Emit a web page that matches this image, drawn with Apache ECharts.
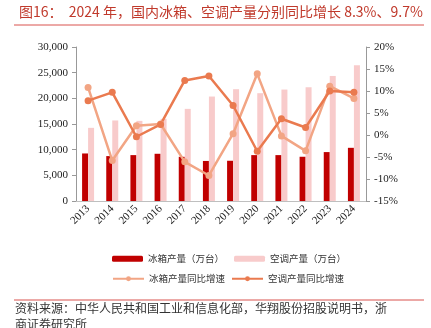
<!DOCTYPE html>
<html><head><meta charset="utf-8">
<script src="https://cdn.jsdelivr.net/npm/echarts@6/dist/echarts.min.js"></script>
<style>html,body{margin:0;padding:0;background:#fff}#c{width:431px;height:328px}</style>
</head><body><div id="c"></div>
<script>
var years = ['2013','2014','2015','2016','2017','2018','2019','2020','2021','2022','2023','2024'];
var fridgeOutput = [9260, 8750, 8940, 9200, 8610, 7800, 7840, 8940, 8940, 8620, 9530, 10360];
var acOutput = [14250, 15690, 15610, 16000, 17950, 20350, 21780, 21000, 21710, 22160, 24360, 26440];
var fridgeGrowth = [10.8, -5.8, 2.1, 2.5, -6.1, -9.2, 0.3, 13.9, -0.2, -3.6, 11.1, 8.3];
var acGrowth = [7.8, 9.7, -0.4, 2.4, 12.4, 13.4, 6.7, -3.7, 3.7, 1.7, 10.0, 9.7];
var leftTicks = {min: 0, max: 30000, interval: 5000};
var rightTicks = {min: -15, max: 20, interval: 5};

var serif = 'Liberation Serif';
var cjk = 'Noto Sans CJK SC';
var chart = echarts.init(document.getElementById('c'));
chart.setOption({
  animation: false,
  backgroundColor: '#fff',
  title: {
    text: '图16：  2024 年，国内冰箱、空调产量分别同比增长 8.3%、9.7%',
    left: 14, top: 0,
    textStyle: {color: '#c0392b', fontSize: 14, fontWeight: 'normal', fontFamily: cjk}
  },
  graphic: [
    {type: 'line', shape: {x1: 14, y1: 25, x2: 424, y2: 25}, style: {stroke: '#d9534f', lineWidth: 1}},
    {type: 'line', shape: {x1: 14, y1: 300, x2: 424, y2: 300}, style: {stroke: '#d9534f', lineWidth: 1}},
    {type: 'text', left: 15, top: 302, style: {text: '资料来源：中华人民共和国工业和信息化部，华翔股份招股说明书，浙', fontSize: 12, fontFamily: cjk, fill: '#333'}},
    {type: 'text', left: 15, top: 318, style: {text: '商证券研究所', fontSize: 12, fontFamily: cjk, fill: '#333'}}
  ],
  grid: {left: 76, right: 65, top: 47, bottom: 127},
  legend: [
    {data: ['冰箱产量（万台）', '空调产量（万台）'], left: 107, top: 249, itemWidth: 31, itemHeight: 6, itemGap: 10,
     textStyle: {fontSize: 9.5, fontFamily: cjk, color: '#333'}},
    {data: ['冰箱产量同比增速', '空调产量同比增速'], left: 107, top: 269, itemWidth: 31, itemHeight: 6, itemGap: 6,
     textStyle: {fontSize: 9.5, fontFamily: cjk, color: '#333'}}
  ],
  xAxis: {
    type: 'category', data: years,
    axisLine: {lineStyle: {color: '#bfbfbf'}},
    axisTick: {show: false},
    axisLabel: {rotate: 45, fontSize: 11, fontFamily: serif, color: '#222', margin: 6}
  },
  yAxis: [
    {type: 'value', min: leftTicks.min, max: leftTicks.max, interval: leftTicks.interval,
     splitLine: {show: false},
     axisLine: {show: true, lineStyle: {color: '#999'}},
     axisTick: {show: true, length: 4, lineStyle: {color: '#999'}},
     axisLabel: {fontSize: 11, fontFamily: serif, color: '#222', margin: 8}},
    {type: 'value', min: rightTicks.min, max: rightTicks.max, interval: rightTicks.interval,
     splitLine: {show: false},
     axisLine: {show: true, lineStyle: {color: '#999'}},
     axisTick: {show: true, length: 4, lineStyle: {color: '#999'}},
     axisLabel: {fontSize: 11, fontFamily: serif, color: '#222', margin: 8, formatter: '{value}%'}}
  ],
  series: [
    {name: '冰箱产量（万台）', type: 'bar', data: fridgeOutput, barWidth: 6, barGap: '0%', itemStyle: {color: '#c00000'}},
    {name: '空调产量（万台）', type: 'bar', data: acOutput, barWidth: 6, barGap: '0%', itemStyle: {color: '#f8cbcb'}},
    {name: '冰箱产量同比增速', type: 'line', yAxisIndex: 1, data: fridgeGrowth, symbol: 'circle', symbolSize: 7,
     lineStyle: {width: 2.5, color: '#f2a584'}, itemStyle: {color: '#f2a584'}},
    {name: '空调产量同比增速', type: 'line', yAxisIndex: 1, data: acGrowth, symbol: 'circle', symbolSize: 7,
     lineStyle: {width: 2.5, color: '#ea7a4f'}, itemStyle: {color: '#ea7a4f'}}
  ]
});
</script></body></html>
